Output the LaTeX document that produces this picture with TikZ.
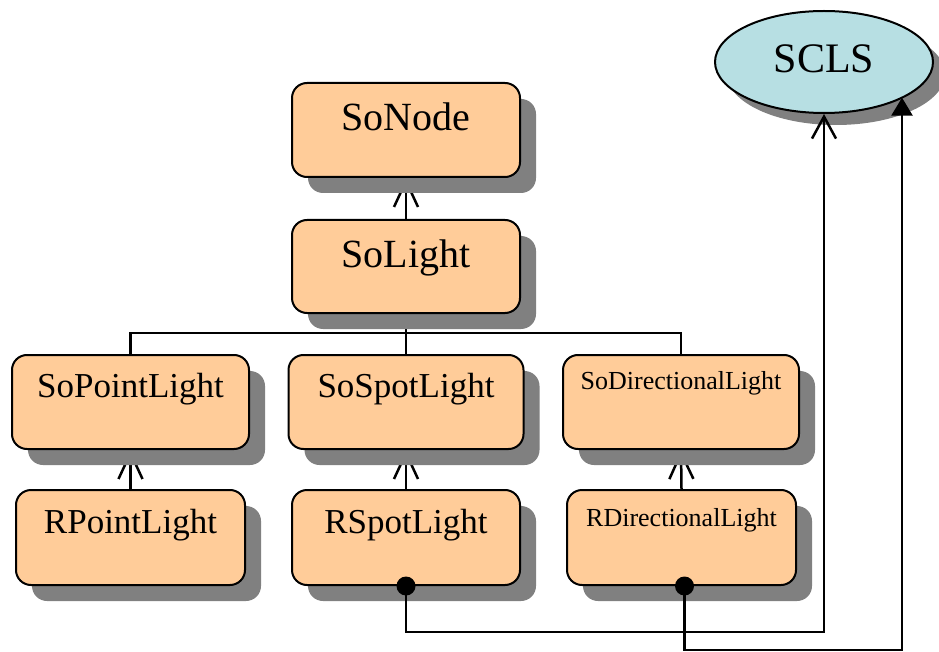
\documentclass[tikz,border=0pt]{standalone}
\usepackage{fontspec}
\setmainfont{Liberation Serif}
\usetikzlibrary{shapes.geometric,shadows,arrows.meta}
\definecolor{peach}{RGB}{255,204,153}
\definecolor{shgray}{RGB}{128,128,128}
\definecolor{clscyan}{RGB}{183,223,227}
\pgfdeclarelayer{bg}\pgfsetlayers{bg,main}
\begin{document}
\begin{tikzpicture}[x=1pt,y=-1pt,
  cls/.style={draw=black, line width=2pt, fill=peach, rounded corners=15pt, inner sep=0pt,
    minimum height=94pt, general shadow={fill=shgray, draw=none, shadow xshift=16pt, shadow yshift=-16pt}},
  lbl/.style={anchor=base, inner sep=0pt},
  big/.style={font=\fontsize{40}{44}\selectfont},
  mid/.style={font=\fontsize{35}{40}\selectfont},
  sml/.style={font=\fontsize{26}{30}\selectfont},
  wire/.style={line width=2.5pt},
  inh/.style={line width=2.5pt, -{Straight Barb[length=26pt,width=24pt]}},
  dotc/.style={line width=2.5pt}]
\useasboundingbox (0,0) rectangle (939,652);

% classes
\node[cls, minimum width=228pt] (sonode) at (406,130) {};
\node[cls, minimum width=228pt, minimum height=93pt] (solight) at (406,266.5) {};
\node[cls, minimum width=237pt] (sopl) at (130.5,402) {};
\node[cls, minimum width=235pt] (sosl) at (406,402) {};
\node[cls, minimum width=236pt] (sodl) at (681,402) {};
\node[cls, minimum width=229pt, minimum height=95pt] (rpl) at (130.5,537.5) {};
\node[cls, minimum width=228pt, minimum height=95pt] (rsl) at (406,537.5) {};
\node[cls, minimum width=229pt, minimum height=95pt] (rdl) at (681.5,537.5) {};
\node[ellipse, draw=black, line width=2pt, fill=clscyan, inner sep=0pt,
  minimum width=218pt, minimum height=102pt,
  general shadow={fill=shgray, draw=none, shadow xshift=12pt, shadow yshift=-12pt}] (scls) at (824,62) {};

% labels
\node[lbl, big] (sonodet) at (406,131) {SoNode};
\node[lbl, big] (solightt) at (406,268) {SoLight};
\node[lbl, mid] (soplt) at (130.5,397) {SoPointLight};
\node[lbl, mid] (soslt) at (406,397) {SoSpotLight};
\node[lbl, sml] (sodlt) at (681,389) {SoDirectionalLight};
\node[lbl, mid] (rplt) at (130.5,533) {RPointLight};
\node[lbl, mid] (rslt) at (406,533) {RSpotLight};
\node[lbl, sml] (rdlt) at (681.5,526) {RDirectionalLight};
\node[lbl, font=\fontsize{42}{46}\selectfont] (sclst) at (824,73) {SCLS};

% inheritance (behind shadows)
\begin{pgfonlayer}{bg}
  \draw[inh] (solight.north) -- (sonode.south);
  \coordinate (bus) at (406,333);
  \draw[wire] (sopl.north) |- (bus) -| (sodl.north);
  \draw[wire] (sosl.north) -- (solight.south);
  \draw[inh] (rpl.north) -- (sopl.south);
  \draw[inh] (rsl.north) -- (sosl.south);
  \draw[inh] (rdl.north) -- (sodl.south);
\end{pgfonlayer}

% associations to SCLS
\coordinate (c1) at (824,632);
\coordinate (c2) at (902,650);
\coordinate (d2) at ([xshift=3pt]rdl.south);
\draw[dotc, -{Straight Barb[length=22pt,width=24pt]}] (rsl.south) |- (c1) -- (scls.south);
\draw[dotc, -{Triangle[length=18pt,width=21pt]}] (d2) |- (c2) -- (c2 |- scls.-24.5);
\fill (rsl.south) circle (9.5pt);
\fill (d2) circle (9.5pt);
\end{tikzpicture}
\end{document}
